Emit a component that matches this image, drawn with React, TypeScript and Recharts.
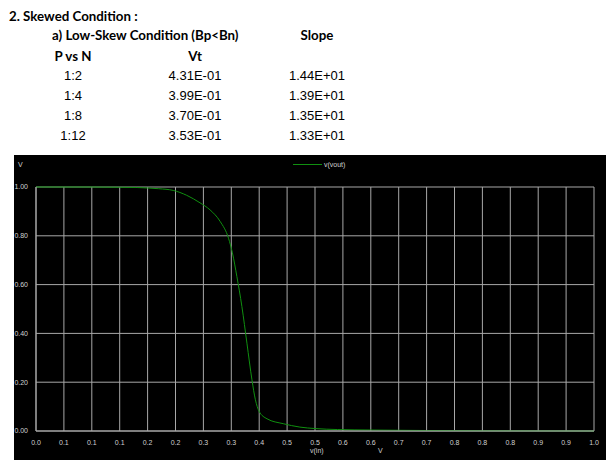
import { LineChart, Line, XAxis, YAxis, CartesianGrid, Legend } from "recharts"

// table above the plot
const ratios = ["1:2", "1:4", "1:8", "1:12"]
const vtValues = ["4.31E-01", "3.99E-01", "3.70E-01", "3.53E-01"]
const slopeValues = ["1.44E+01", "1.39E+01", "1.35E+01", "1.33E+01"]

// transfer curve
const vin = [0, 0.05, 0.1, 0.15, 0.18, 0.2, 0.22, 0.246, 0.27, 0.294, 0.312, 0.33, 0.345, 0.352, 0.36, 0.369, 0.378, 0.387, 0.393, 0.4, 0.414, 0.443, 0.473, 0.5, 0.54, 0.6, 0.7, 0.8, 0.9, 1.0]
const vout = [1.0, 1.0, 1.0, 0.999, 0.998, 0.996, 0.993, 0.986, 0.966, 0.935, 0.906, 0.859, 0.79, 0.73, 0.633, 0.51, 0.36, 0.21, 0.13, 0.08, 0.05, 0.03, 0.016, 0.01, 0.006, 0.004, 0.002, 0.001, 0.0005, 0]

const xTicks = [0, 0.05, 0.1, 0.15, 0.2, 0.25, 0.3, 0.35, 0.4, 0.45, 0.5, 0.55, 0.6, 0.65, 0.7, 0.75, 0.8, 0.85, 0.9, 0.95, 1.0]
const xTickLabels = ["0.0", "0.1", "0.1", "0.1", "0.2", "0.2", "0.3", "0.3", "0.4", "0.5", "0.5", "0.6", "0.6", "0.7", "0.7", "0.8", "0.8", "0.8", "0.9", "0.9", "1.0"]
const yTicks = [0, 0.2, 0.4, 0.6, 0.8, 1.0]
const yTickLabels = ["0.00", "0.20", "0.40", "0.60", "0.80", "1.00"]

const data = vin.map((x, i) => ({ vin: x, vout: vout[i] }))

const head = { fontFamily: "Lato", fontWeight: 700, fontSize: 13.3, color: "#000" }
const cell = { fontFamily: "'Liberation Sans'", fontSize: 13, color: "#000" }
const tickStyle = { fontFamily: "'Liberation Sans'", fontSize: 7, fill: "#d0d0d0" }

function Txt({ x, y, children, style, center }: any) {
  return (
    <div
      style={{
        position: "absolute",
        left: center ? x - 100 : x,
        width: center ? 200 : undefined,
        textAlign: center ? "center" : "left",
        top: y - 10,
        lineHeight: "20px",
        whiteSpace: "nowrap",
        ...style,
      }}
    >
      {children}
    </div>
  )
}

function LegendBox() {
  return (
    <div style={{ display: "flex", alignItems: "center" }}>
      <div style={{ width: 29, height: 1, background: "#109010", marginRight: 2 }} />
      <span style={{ fontFamily: "'Liberation Sans'", fontSize: 7, color: "#d0d0d0" }}>v(vout)</span>
    </div>
  )
}

export default function App() {
  return (
    <div style={{ position: "relative", width: 616, height: 468, background: "#fff", overflow: "hidden" }}>
      <style>{"body{margin:0}"}</style>
      <Txt x={9} y={16} style={head}>2. Skewed Condition :</Txt>
      <Txt x={52} y={35} style={head}>a) Low-Skew Condition (Bp&lt;Bn)</Txt>
      <Txt x={317} y={35} center style={head}>Slope</Txt>
      <Txt x={73} y={56} center style={head}>P vs N</Txt>
      <Txt x={195} y={56} center style={head}>Vt</Txt>
      {ratios.map((r, i) => (
        <div key={r}>
          <Txt x={73} y={76 + i * 20} center style={cell}>{r}</Txt>
          <Txt x={195} y={76 + i * 20} center style={cell}>{vtValues[i]}</Txt>
          <Txt x={317} y={76 + i * 20} center style={cell}>{slopeValues[i]}</Txt>
        </div>
      ))}

      <div style={{ position: "absolute", left: 14, top: 155, width: 592, height: 305, background: "#000" }}>
        <LineChart width={592} height={305} data={data} margin={{ top: 32, right: 12, left: 0, bottom: 0 }}>
          <CartesianGrid stroke="#a8a8a8" strokeWidth={1} />
          <XAxis
            dataKey="vin"
            type="number"
            domain={[0, 1]}
            ticks={xTicks}
            tickFormatter={(v: number, i: number) => xTickLabels[i]}
            interval={0}
            height={29}
            tickLine={false}
            axisLine={{ stroke: "#a8a8a8" }}
            tick={tickStyle}
            tickMargin={3}
          />
          <YAxis
            type="number"
            domain={[0, 1]}
            ticks={yTicks}
            tickFormatter={(v: number, i: number) => yTickLabels[i]}
            interval={0}
            width={22}
            tickLine={false}
            axisLine={{ stroke: "#a8a8a8" }}
            tick={tickStyle}
            tickMargin={2}
          />
          <Legend
            layout="horizontal"
            verticalAlign="middle"
            align="center"
            content={() => <LegendBox />}
            wrapperStyle={{ left: 279, top: 6, width: 100, height: 10 }}
          />
          <Line
            dataKey="vout"
            type="monotone"
            stroke="#109010"
            strokeWidth={1}
            dot={false}
            isAnimationActive={false}
          />
        </LineChart>
        <div style={{ position: "absolute", left: 4, top: 6, fontFamily: "'Liberation Sans'", fontSize: 7, color: "#d0d0d0" }}>V</div>
        <div style={{ position: "absolute", left: 296, top: 292, fontFamily: "'Liberation Sans'", fontSize: 7, color: "#d0d0d0" }}>v(in)</div>
        <div style={{ position: "absolute", left: 364, top: 292, fontFamily: "'Liberation Sans'", fontSize: 7, color: "#d0d0d0" }}>V</div>
      </div>
    </div>
  )
}
